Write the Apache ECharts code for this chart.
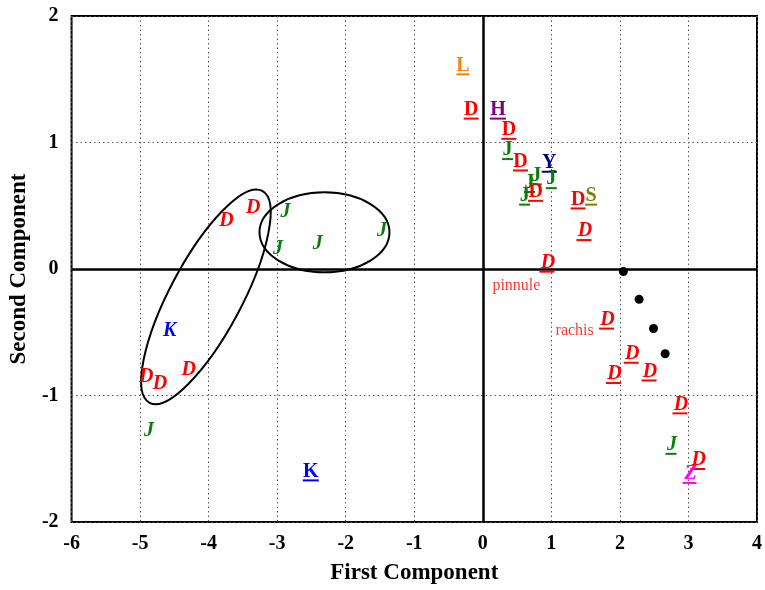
<!DOCTYPE html>
<html>
<head>
<meta charset="utf-8">
<script src="https://cdn.jsdelivr.net/npm/echarts@6/dist/echarts.min.js"></script>
<style>
  html, body { margin: 0; padding: 0; background: #fff; overflow: hidden; width: 765px; height: 590px; }
  #chart { position: absolute; left: 0; top: 0; width: 765px; height: 590px; }
</style>
</head>
<body>
<div id="chart"></div>
<script>
// ---- data (First Component, Second Component) ----
const xTicks = [-6, -5, -4, -3, -2, -1, 0, 1, 2, 3, 4];
const yTicks = [-2, -1, 0, 1, 2];

// upright, bold, underlined labels
const uprightJ = [[0.36, 0.94], [0.78, 0.74], [1.00, 0.71], [0.68, 0.68], [0.61, 0.58]];
const uprightD = [[-0.17, 1.26], [0.38, 1.10], [0.55, 0.85], [0.77, 0.61], [1.39, 0.55]];
const uprightL = [[-0.29, 1.61]];
const uprightH = [[0.22, 1.26]];
const uprightY = [[0.97, 0.84]];
const uprightS = [[1.58, 0.58]];
const uprightK = [[-2.51, -1.60]];

// italic, bold, underlined labels
const italicUnderD = [[1.49, 0.30], [0.95, 0.05], [1.82, -0.40], [2.18, -0.67], [1.92, -0.83],
                      [2.44, -0.81], [2.89, -1.07], [3.15, -1.51]];
const italicUnderJ = [[2.76, -1.39]];
const italicUnderZ = [[3.03, -1.62]];

// italic, bold labels (no underline)
const italicJ = [[-2.88, 0.45], [-2.99, 0.16], [-2.41, 0.20], [-1.47, 0.30], [-4.87, -1.28]];
const italicD = [[-3.74, 0.38], [-3.35, 0.48], [-4.91, -0.85], [-4.71, -0.91], [-4.29, -0.80]];
const italicK = [[-4.57, -0.49]];

// black dots
const dots = [[2.05, -0.02], [2.28, -0.24], [2.49, -0.47], [2.66, -0.67]];

// text notes
const noteNames = ['pinnule', 'rachis'];
const notePos = [[0.49, -0.13], [1.34, -0.49]];

// ellipse annotations: centre in data units
const ellipseCentres = [[-4.04, -0.22], [-2.31, 0.29]];

// ---- styling ----
const FONT = '"Liberation Serif", "Times New Roman", serif';
const LETTER_SIZE = 20;
const letterWidth = { D: 15, J: 11, L: 13, H: 16, Y: 15, S: 12, K: 16, Z: 14 };

function letterSeries(data, letter, color, italic, underline) {
  const s = {
    type: 'scatter',
    data: data,
    z: 5,
    label: {
      show: true,
      position: 'inside',
      formatter: letter,
      color: color,
      fontFamily: FONT,
      fontWeight: 'bold',
      fontStyle: italic ? 'italic' : 'normal',
      fontSize: LETTER_SIZE
    },
    emphasis: { disabled: true }
  };
  if (underline) {
    s.symbol = 'rect';
    s.symbolSize = [letterWidth[letter] || 12, 2];
    s.symbolOffset = [italic ? -1 : 0, 9];
    s.itemStyle = { color: color, opacity: 1 };
    s.label.offset = [italic ? 1 : 0, -9];
  } else {
    s.symbol = 'circle';
    s.symbolSize = 1;
    s.itemStyle = { color: 'rgba(0,0,0,0)', opacity: 1 };
  }
  return s;
}

const RED = '#ff0000', GREEN = '#0a7d0a', BLUE = '#0000ff';

const series = [
  letterSeries(italicJ, 'J', GREEN, true, false),
  letterSeries(italicD, 'D', RED, true, false),
  letterSeries(italicK, 'K', BLUE, true, false),
  letterSeries(uprightJ, 'J', GREEN, false, true),
  letterSeries(uprightD, 'D', RED, false, true),
  letterSeries(uprightL, 'L', '#ff8000', false, true),
  letterSeries(uprightH, 'H', '#800080', false, true),
  letterSeries(uprightY, 'Y', '#000080', false, true),
  letterSeries(uprightS, 'S', '#808000', false, true),
  letterSeries(uprightK, 'K', BLUE, false, true),
  letterSeries(italicUnderJ, 'J', GREEN, true, true),
  letterSeries(italicUnderZ, 'Z', '#ff00ff', true, true),
  letterSeries(italicUnderD, 'D', RED, true, true),
  {
    type: 'scatter',
    data: dots,
    symbol: 'circle',
    symbolSize: 9,
    itemStyle: { color: '#000', opacity: 1 },
    emphasis: { disabled: true },
    z: 6
  },
  {
    type: 'scatter',
    data: noteNames.map((n, i) => ({ name: n, value: notePos[i] })),
    symbol: 'circle',
    symbolSize: 1,
    itemStyle: { color: 'rgba(0,0,0,0)' },
    label: {
      show: true,
      position: 'inside',
      formatter: '{b}',
      color: RED,
      fontFamily: FONT,
      fontSize: 16
    },
    emphasis: { disabled: true },
    z: 5
  },
  {
    type: 'line',
    data: [],
    markLine: {
      silent: true,
      symbol: ['none', 'none'],
      label: { show: false },
      lineStyle: { color: '#000', width: 2.5, type: 'solid' },
      data: [{ xAxis: 0 }, { yAxis: 0 }]
    },
    z: 3
  }
];

const chart = echarts.init(document.getElementById('chart'), null, { width: 765, height: 590 });
chart.setOption({
  animation: false,
  backgroundColor: '#fff',
  grid: {
    left: 67, right: 3, top: 16, bottom: 63,
    show: true, borderColor: '#000', borderWidth: 2, backgroundColor: 'transparent'
  },
  xAxis: {
    type: 'value',
    min: xTicks[0], max: xTicks[xTicks.length - 1], interval: 1,
    name: 'First Component',
    nameLocation: 'middle',
    nameGap: 40,
    nameTextStyle: { fontFamily: FONT, fontWeight: 'bold', fontSize: 23, color: '#000' },
    axisLine: { show: false, onZero: false },
    axisTick: { show: false },
    axisLabel: { fontFamily: FONT, fontWeight: 'bold', fontSize: 20, color: '#000', margin: 12 },
    splitLine: { show: true, lineStyle: { color: '#555', width: 1, type: [1.5, 3] } }
  },
  yAxis: {
    type: 'value',
    min: yTicks[0], max: yTicks[yTicks.length - 1], interval: 1,
    name: 'Second Component',
    nameLocation: 'middle',
    nameGap: 34,
    nameRotate: 90,
    nameTextStyle: { fontFamily: FONT, fontWeight: 'bold', fontSize: 23, color: '#000' },
    axisLine: { show: false, onZero: false },
    axisTick: { show: false },
    axisLabel: { fontFamily: FONT, fontWeight: 'bold', fontSize: 20, color: '#000', margin: 13 },
    splitLine: { show: true, lineStyle: { color: '#555', width: 1, type: [1.5, 3] } }
  },
  series: series
});

// ellipse annotations (pixel radii / rotation, centres mapped from data units)
const ellipseShapes = [
  { rx: 120, ry: 36, rot: 62 },
  { rx: 65, ry: 40, rot: 0 }
];
const graphics = ellipseCentres.map((c, i) => {
  const p = chart.convertToPixel({ gridIndex: 0 }, c);
  const e = ellipseShapes[i];
  return {
    type: 'ellipse',
    x: p[0], y: p[1],
    rotation: e.rot * Math.PI / 180,
    shape: { cx: 0, cy: 0, rx: e.rx, ry: e.ry },
    style: { fill: null, stroke: '#000', lineWidth: 2 },
    z: 4
  };
});
chart.setOption({ graphic: graphics });
</script>
</body>
</html>
